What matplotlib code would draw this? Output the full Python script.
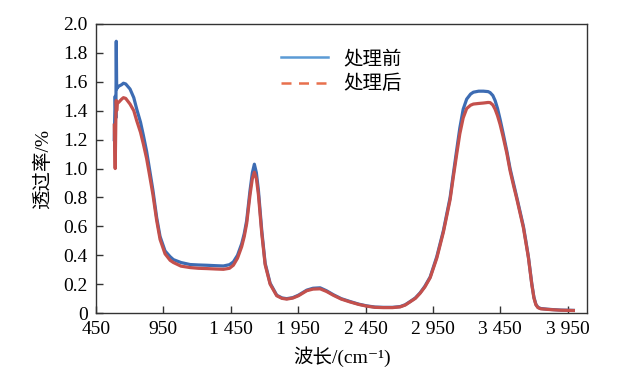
import matplotlib
matplotlib.use("Agg")
from matplotlib import pyplot as plt
from matplotlib.lines import Line2D

# fonts: serif digits, CJK fallback
plt.rcParams['font.family'] = ['Liberation Serif', 'Noto Sans CJK SC', 'DejaVu Sans']
plt.rcParams['font.size'] = 14

# wavenumber (cm-1)
wn = [585, 592, 597, 600, 603, 608, 620, 640, 653, 670, 702, 730, 752, 780, 801, 825,
      846, 872, 900, 925, 962, 1000, 1024, 1080, 1148, 1210, 1272, 1340, 1395, 1440,
      1469, 1500, 1531, 1550, 1568, 1593, 1610, 1625, 1640, 1655, 1680, 1705, 1742,
      1791, 1830, 1865, 1910, 1952, 2014, 2060, 2113, 2160, 2212, 2270, 2336, 2400,
      2460, 2520, 2583, 2650, 2707, 2745, 2781, 2820, 2855, 2890, 2930, 2979, 3028,
      3078, 3100, 3127, 3150, 3175, 3201, 3230, 3251, 3290, 3325, 3360, 3375, 3395,
      3412, 3430, 3449, 3470, 3499, 3523, 3548, 3573, 3600, 3622, 3640, 3659, 3684,
      3700, 3715, 3730, 3750, 3800, 3845, 3900, 3993]

before = [1.20, 1.50, 1.35, 1.88, 1.55, 1.56, 1.57, 1.58, 1.59, 1.585, 1.55, 1.49, 1.41,
          1.32, 1.23, 1.12, 1.00, 0.85, 0.66, 0.53, 0.43, 0.39, 0.37, 0.35, 0.336, 0.333,
          0.331, 0.328, 0.326, 0.335, 0.354, 0.40, 0.48, 0.55, 0.64, 0.85, 0.97, 1.03,
          0.97, 0.85, 0.57, 0.345, 0.207, 0.124, 0.105, 0.100, 0.107, 0.124, 0.159, 0.172,
          0.175, 0.155, 0.127, 0.100, 0.080, 0.062, 0.050, 0.042, 0.040, 0.040, 0.045,
          0.058, 0.080, 0.105, 0.140, 0.185, 0.250, 0.390, 0.570, 0.800, 0.950, 1.130,
          1.280, 1.410, 1.480, 1.515, 1.528, 1.535, 1.535, 1.532, 1.525, 1.505, 1.470,
          1.415, 1.340, 1.250, 1.120, 1.000, 0.900, 0.800, 0.690, 0.600, 0.500, 0.390,
          0.205, 0.110, 0.060, 0.040, 0.032, 0.027, 0.024, 0.021, 0.019]

after = [1.30, 1.00, 1.35, 1.47, 1.40, 1.45, 1.46, 1.48, 1.49, 1.485, 1.446, 1.40, 1.33,
         1.25, 1.17, 1.07, 0.96, 0.82, 0.64, 0.51, 0.41, 0.365, 0.35, 0.325, 0.315, 0.310,
         0.308, 0.305, 0.303, 0.310, 0.331, 0.38, 0.46, 0.53, 0.62, 0.82, 0.93, 0.975,
         0.93, 0.82, 0.55, 0.335, 0.200, 0.120, 0.102, 0.097, 0.104, 0.120, 0.155, 0.166,
         0.168, 0.150, 0.123, 0.097, 0.077, 0.060, 0.048, 0.040, 0.038, 0.038, 0.043,
         0.056, 0.078, 0.102, 0.137, 0.180, 0.245, 0.380, 0.560, 0.785, 0.930, 1.100,
         1.240, 1.350, 1.415, 1.438, 1.446, 1.450, 1.453, 1.457, 1.456, 1.440, 1.410,
         1.365, 1.305, 1.225, 1.105, 0.985, 0.885, 0.790, 0.680, 0.590, 0.490, 0.385,
         0.200, 0.105, 0.057, 0.038, 0.030, 0.026, 0.023, 0.020, 0.018]

xticks = [450, 950, 1450, 1950, 2450, 2950, 3450, 3950]
xticklabels = ['450', '950', '1 450', '1 950', '2 450', '2 950', '3 450', '3 950']
yticks = [0, 0.2, 0.4, 0.6, 0.8, 1.0, 1.2, 1.4, 1.6, 1.8, 2.0]
yticklabels = ['0', '0.2', '0.4', '0.6', '0.8', '1.0', '1.2', '1.4', '1.6', '1.8', '2.0']

fig = plt.figure(figsize=(6.32, 3.8), dpi=100)
ax = fig.add_axes([0.152, 0.176, 0.777, 0.761])

ax.plot(wn, before, color='#3d6cb3', lw=2.3)
ax.plot(wn, after, color='#c4504c', lw=2.3)

ax.set_xlim(450, 4095)
ax.set_ylim(0, 2.0)
ax.set_xticks(xticks)
ax.set_xticklabels(xticklabels)
ax.set_yticks(yticks)
ax.set_yticklabels(yticklabels)
ax.tick_params(direction='in', length=5, width=1, colors='#333333', labelcolor='black', pad=6)
for s in ax.spines.values():
    s.set_color('#333333')
    s.set_linewidth(1)

ax.set_xlabel('波长/(cm⁻¹)', labelpad=6)
ax.set_ylabel('透过率/%', labelpad=8)

handles = [Line2D([], [], color='#5b9bd5', lw=1.8),
           Line2D([], [], color='#e8704d', lw=1.8, dashes=(4, 3))]
ax.legend(handles, ['处理前', '处理后'], loc='upper center', bbox_to_anchor=(0.5, 0.97),
          frameon=False, handlelength=2.4, labelspacing=0.35, fontsize=14)

fig.savefig('out.png', dpi=100)
